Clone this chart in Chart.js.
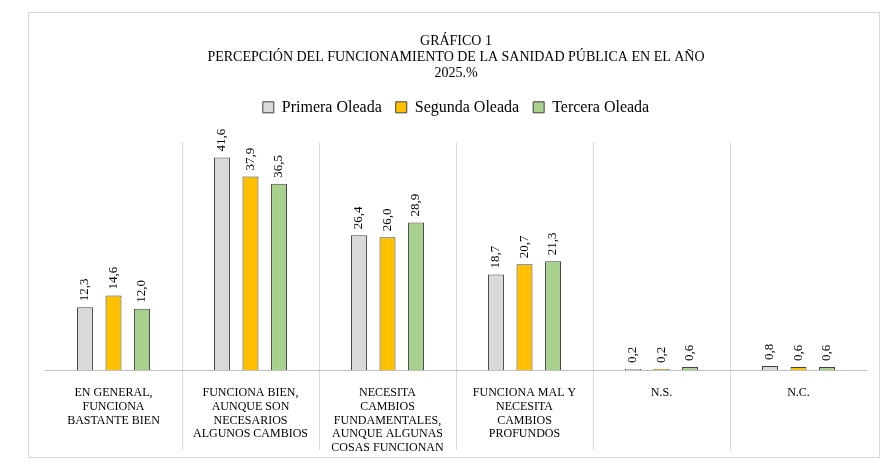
<!DOCTYPE html>
<html><head><meta charset="utf-8">
<script src="https://cdn.jsdelivr.net/npm/chart.js@4"></script>
<style>html,body{margin:0;background:#fff}#wrap{width:892px;height:472px}</style>
</head><body><div id="wrap"><canvas id="c"></canvas></div>
<script>
const categories = [
  ['EN GENERAL,', 'FUNCIONA', 'BASTANTE BIEN'],
  ['FUNCIONA BIEN,', 'AUNQUE SON', 'NECESARIOS', 'ALGUNOS CAMBIOS'],
  ['NECESITA', 'CAMBIOS', 'FUNDAMENTALES,', 'AUNQUE ALGUNAS', 'COSAS FUNCIONAN'],
  ['FUNCIONA MAL Y', 'NECESITA', 'CAMBIOS', 'PROFUNDOS'],
  'N.S.',
  'N.C.'
];
const seriesNames = ['Primera Oleada', 'Segunda Oleada', 'Tercera Oleada'];
const primera = [12.3, 41.6, 26.4, 18.7, 0.2, 0.8];
const segunda = [14.6, 37.9, 26.0, 20.7, 0.2, 0.6];
const tercera = [12.0, 36.5, 28.9, 21.3, 0.6, 0.6];
const colors = ['#d9d9d9', '#ffc000', '#a9d18e'];

const FONT = '"Liberation Serif", "Times New Roman", serif';

const extras = {
  id: 'extras',
  beforeInit(chart) {
    const lg = chart.legend, fit = lg.fit;
    lg.fit = function () { fit.call(this); this.height += 17; };
  },
  beforeDraw(chart) {
    const ctx = chart.ctx;
    ctx.save();
    ctx.strokeStyle = '#d9d9d9';
    ctx.lineWidth = 1;
    ctx.strokeRect(28.5, 12.5, 851, 445);
    ctx.restore();
  },
  afterDatasetsDraw(chart) {
    const ctx = chart.ctx, x = chart.scales.x, a = chart.chartArea;
    ctx.save();
    ctx.strokeStyle = '#d9d9d9';
    ctx.lineWidth = 1;
    for (let i = 1; i < categories.length; i++) {
      const px = Math.round((x.getPixelForValue(i - 1) + x.getPixelForValue(i)) / 2) + 0.5;
      ctx.beginPath(); ctx.moveTo(px, a.top); ctx.lineTo(px, 450); ctx.stroke();
    }
    ctx.strokeStyle = '#bfbfbf';
    ctx.beginPath(); ctx.moveTo(a.left, a.bottom + 0.5); ctx.lineTo(a.right, a.bottom + 0.5); ctx.stroke();
    ctx.fillStyle = '#000';
    ctx.font = '13px ' + FONT;
    ctx.textAlign = 'left';
    ctx.textBaseline = 'middle';
    chart.data.datasets.forEach((ds, di) => {
      chart.getDatasetMeta(di).data.forEach((bar, i) => {
        ctx.save();
        ctx.translate(bar.x, bar.y - 6);
        ctx.rotate(-Math.PI / 2);
        ctx.fillText(ds.data[i].toFixed(1).replace('.', ','), 0, 0);
        ctx.restore();
      });
    });
    ctx.restore();
  }
};

new Chart(document.getElementById('c'), {
  type: 'bar',
  data: {
    labels: categories,
    datasets: [primera, segunda, tercera].map((d, i) => ({
      label: seriesNames[i], data: d, backgroundColor: colors[i],
      borderColor: '#404040', borderWidth: 1,
      categoryPercentage: 0.625, barPercentage: 0.56
    }))
  },
  options: {
    responsive: true, maintainAspectRatio: false, animation: false,
    layout: { padding: { left: 45, right: 25, top: 33, bottom: 9 } },
    plugins: {
      title: {
        display: true,
        text: ['GRÁFICO 1', 'PERCEPCIÓN DEL FUNCIONAMIENTO DE LA SANIDAD PÚBLICA EN EL AÑO', '2025.%'],
        color: '#000', font: { family: FONT, size: 14, weight: 'normal', lineHeight: 1.15 },
        padding: { top: 0, bottom: 4 }
      },
      legend: {
        labels: { color: '#000', font: { family: FONT, size: 16 }, boxWidth: 11, boxHeight: 11, padding: 14 }
      },
      tooltip: { enabled: false }
    },
    scales: {
      x: {
        grid: { display: false }, border: { display: false },
        ticks: { color: '#000', font: { family: FONT, size: 12, lineHeight: 1.15 }, maxRotation: 0, autoSkip: false, padding: 8 }
      },
      y: { display: false, min: 0, max: 44.6 }
    }
  },
  plugins: [extras]
});
</script></body></html>
